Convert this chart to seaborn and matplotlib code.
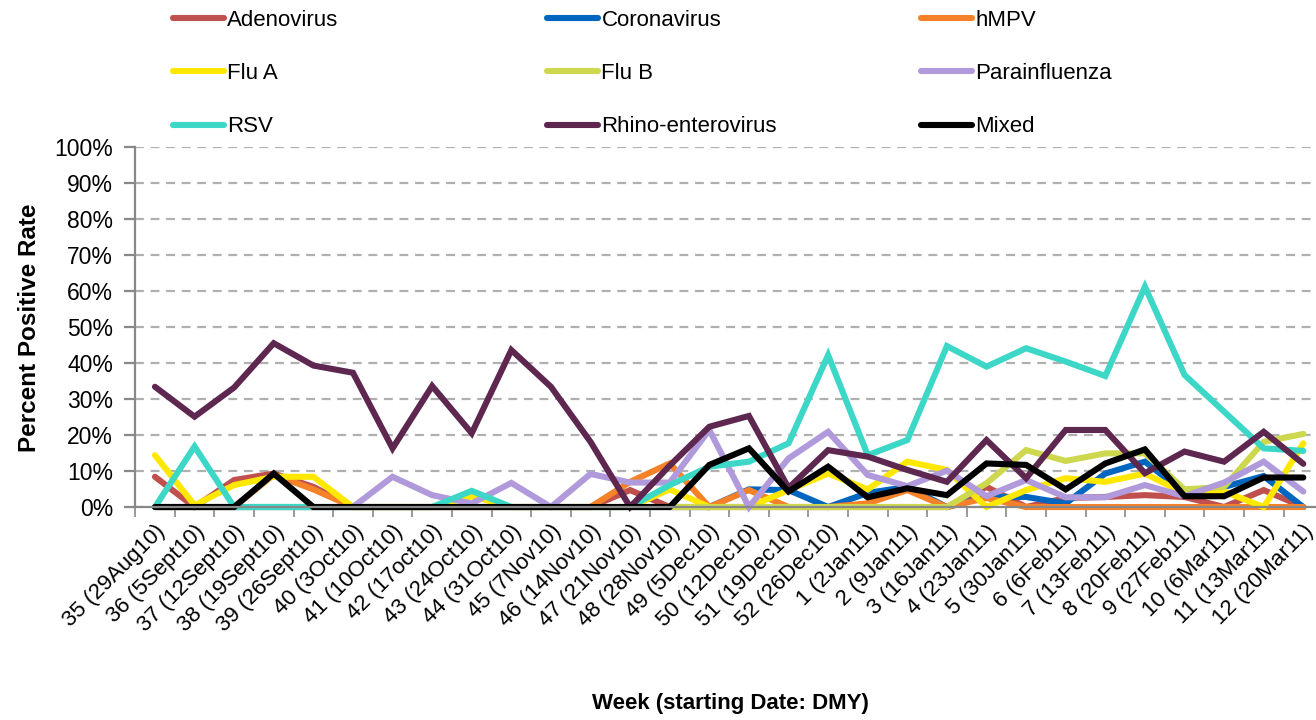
import numpy as np
import pandas as pd
import matplotlib
matplotlib.use("Agg")
import matplotlib.pyplot as plt
import seaborn as sns
from matplotlib.lines import Line2D
from matplotlib.ticker import FixedLocator, PercentFormatter

sns.set_style("white")
plt.rcParams['font.family'] = ['Liberation Sans Narrow', 'Liberation Sans', 'DejaVu Sans']
plt.rcParams['text.color'] = 'black'
plt.rcParams['xtick.labelcolor'] = 'black'
plt.rcParams['ytick.labelcolor'] = 'black'

# Semanas (rotulos do eixo x)
weeks = ['35 (29Aug10)', '36 (5Sept10)', '37 (12Sept10)', '38 (19Sept10)', '39 (26Sept10)',
         '40 (3Oct10)', '41 (10Oct10)', '42 (17oct10)', '43 (24Oct10)', '44 (31Oct10)',
         '45 (7Nov10)', '46 (14Nov10)', '47 (21Nov10)', '48 (28Nov10)', '49 (5Dec10)',
         '50 (12Dec10)', '51 (19Dec10)', '52 (26Dec10)', '1 (2Jan11)', '2 (9Jan11)',
         '3 (16Jan11)', '4 (23Jan11)', '5 (30Jan11)', '6 (6Feb11)', '7 (13Feb11)',
         '8 (20Feb11)', '9 (27Feb11)', '10 (6Mar11)', '11 (13Mar11)', '12 (20Mar11)']

# Percentuais (%)
adenovirus = [8.4, 0, 7.5, 9.3, 5.6, 0, 0, 0, 0, 0, 0, 0, 4.7, 0, 0,
              0, 0, 0, 0, 0, 0, 5.6, 0, 2.5, 2.8, 3.3, 2.8, 0, 4.7, 0]
coronavirus = [0, 0, 0, 0, 0, 0, 0, 0, 0, 0, 0, 0, 0, 0, 0,
               4.9, 4.7, 0, 3.9, 5.6, 0, 2.8, 2.8, 1.0, 9.3, 12.6, 4.0, 5.6, 8.6, 0]
hmpv = [0, 0, 0, 9.0, 4.9, 0, 0, 0, 0, 0, 0, 0, 7.0, 12.1, 0,
        4.7, 0, 0, 1.0, 4.7, 0, 2.5, 0, 0, 0, 0, 0, 0, 0, 0]
flu_a = [14.4, 0.5, 6.1, 8.4, 8.4, 0, 0, 0, 3.0, 0, 0, 0, 0, 4.9, 0,
         0, 4.7, 9.3, 4.9, 12.6, 10.3, 0, 4.7, 8.0, 7.0, 9.3, 3.8, 4.3, 0, 17.7]
flu_b = [0, 0, 0, 0, 0, 0, 0, 0, 0, 0, 0, 0, 0, 0, 0,
         0, 0, 0, 0, 0, 0, 6.6, 15.8, 12.8, 14.9, 14.9, 4.9, 5.6, 18.1, 20.3]
parainfluenza = [0, 0, 0, 0, 0, 0, 8.4, 3.3, 1.0, 6.7, 0, 9.2, 6.8, 6.8, 21.4,
                 0, 13.5, 20.9, 8.9, 5.8, 10.1, 3.0, 7.5, 2.7, 2.7, 6.1, 3.0, 6.8, 12.6, 4.3]
rsv = [0, 16.8, 0, 0, 0, 0, 0, 0, 4.5, 0, 0, 0, 0, 6.1, 11.2,
       12.6, 17.7, 42.2, 14.4, 18.6, 44.7, 39.0, 44.1, 40.4, 36.4, 61.2, 36.7, 26.5, 16.3, 15.6]
rhino = [33.4, 25.1, 33.2, 45.5, 39.3, 37.3, 16.3, 33.6, 20.5, 43.6, 33.4, 18.1, 0, 11.5, 22.3,
         25.3, 5.3, 15.8, 14.0, 10.3, 7.0, 18.6, 8.0, 21.4, 21.4, 9.4, 15.4, 12.6, 20.9, 12.0]
mixed = [0, 0, 0, 9.3, 0, 0, 0, 0, 0, 0, 0, 0, 0, 0, 11.7,
         16.3, 4.3, 11.2, 2.7, 5.2, 3.3, 12.1, 11.7, 4.9, 12.1, 16.0, 3.0, 3.0, 8.2, 8.2]

series = ['Adenovirus', 'Coronavirus', 'hMPV', 'Flu A', 'Flu B',
          'Parainfluenza', 'RSV', 'Rhino-enterovirus', 'Mixed']
values = [adenovirus, coronavirus, hmpv, flu_a, flu_b, parainfluenza, rsv, rhino, mixed]
colors = ['#C0504D', '#0066C0', '#F58228', '#FFE800', '#CDD84F',
          '#B09ADB', '#3CD7C6', '#5E2750', '#000000']

df = pd.DataFrame({
    'semana': np.tile(np.arange(len(weeks)), len(series)),
    'taxa': np.concatenate(values) / 100.0,
    'virus': np.repeat(series, len(weeks)),
})

fig = plt.figure(figsize=(13.16, 7.2), dpi=100)
ax = fig.add_axes([0.1027, 0.2958, 0.9027, 0.5])

sns.lineplot(data=df, x='semana', y='taxa', hue='virus', hue_order=series,
             palette=dict(zip(series, colors)), linewidth=4.4, legend=False, ax=ax,
             sort=False, estimator=None)
for ln in ax.get_lines():
    ln.set_solid_joinstyle('miter')
    ln.set_clip_on(False)

ax.set_xlim(-0.5, len(weeks) - 0.5)
ax.set_ylim(0, 1)
ax.set_yticks(np.arange(0, 1.01, 0.1))
ax.yaxis.set_major_formatter(PercentFormatter(1.0, decimals=0))
ax.yaxis.grid(True, linestyle=(0, (4, 3)), color='#B0B0B0', linewidth=1.6)
ax.set_axisbelow(True)

ax.set_xticks(np.arange(len(weeks)))
ax.set_xticklabels(weeks, rotation=45, ha='right', rotation_mode='anchor')
ax.xaxis.set_minor_locator(FixedLocator(np.arange(len(weeks) + 1) - 0.5))
ax.tick_params(axis='x', which='major', length=0, labelsize=16, pad=10)
ax.tick_params(axis='x', which='minor', length=7, width=1.2, color='#888888', direction='out', bottom=True)
ax.tick_params(axis='y', length=8, width=1.6, color='#888888', labelsize=16.5, pad=8, left=True)

for s in ['top', 'right']:
    ax.spines[s].set_visible(False)
for s in ['left', 'bottom']:
    ax.spines[s].set_color('#888888')
    ax.spines[s].set_linewidth(1.6)

ax.set_xlabel('')
ax.set_ylabel('')
fig.text(30 / 1316, 1 - 328 / 720, 'Percent Positive Rate', rotation=90, ha='center', va='center',
         fontsize=17.5, fontweight='bold')
fig.text(730 / 1316, 1 - 703 / 720, 'Week (starting Date: DMY)', ha='center', va='center',
         fontsize=16, fontweight='bold')

# Legenda em 3 colunas, preenchida por linha
col_x = [173, 547, 921]
for c in range(3):
    handles = []
    labels = []
    for r in range(3):
        k = r * 3 + c
        handles.append(Line2D([], [], color=colors[k], linewidth=4.4, solid_capstyle='round'))
        labels.append(series[k])
    fig.legend(handles, labels, loc='upper left',
               bbox_to_anchor=(col_x[c] / 1316, 1 - 10 / 720), frameon=False,
               fontsize=16, handlelength=2.3, handletextpad=0.15, labelspacing=1.45,
               borderpad=0, borderaxespad=0)

fig.savefig('out.png', dpi=100)
